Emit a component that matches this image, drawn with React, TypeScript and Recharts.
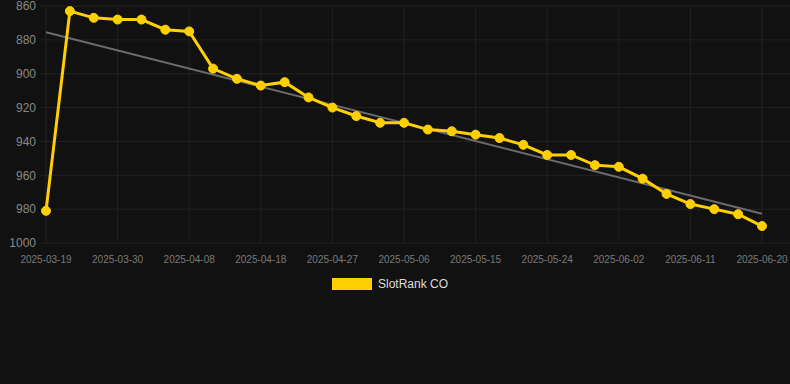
import {
    LineChart,
    Line,
    XAxis,
    YAxis,
    CartesianGrid,
    Legend,
    ReferenceLine,
} from 'recharts';

const dates = [
    '2025-03-19', '2025-03-23', '2025-03-26', '2025-03-30', '2025-04-02', '2025-04-05',
    '2025-04-08', '2025-04-11', '2025-04-15', '2025-04-18', '2025-04-21', '2025-04-24',
    '2025-04-27', '2025-04-30', '2025-05-03', '2025-05-06', '2025-05-09', '2025-05-12',
    '2025-05-15', '2025-05-18', '2025-05-21', '2025-05-24', '2025-05-27', '2025-05-30',
    '2025-06-02', '2025-06-05', '2025-06-08', '2025-06-11', '2025-06-14', '2025-06-17',
    '2025-06-20',
];

const ranks = [
    981, 863, 867, 868, 868, 874, 875, 897, 903, 907, 905, 914,
    920, 925, 929, 929, 933, 934, 936, 938, 942, 948, 948, 954,
    955, 962, 971, 977, 980, 983, 990,
];

const xTicks = [
    '2025-03-19', '2025-03-30', '2025-04-08', '2025-04-18', '2025-04-27', '2025-05-06',
    '2025-05-15', '2025-05-24', '2025-06-02', '2025-06-11', '2025-06-20',
];

const yTicks = [860, 880, 900, 920, 940, 960, 980, 1000];

// trend line end points (rank at first and last date)
const trendStart = 875.5;
const trendEnd = 982.7;

const YELLOW = '#ffd000';

const data = dates.map((d, i) => ({ date: d, rank: ranks[i] }));

function LegendContent() {
    return (
        <div style={{ display: 'flex', justifyContent: 'center', alignItems: 'center', height: 24, paddingRight: 10 }}>
            <span style={{ width: 40, height: 12, background: YELLOW, display: 'inline-block', marginRight: 6 }} />
            <span style={{ color: '#dddddd', fontSize: 12 }}>SlotRank CO</span>
        </div>
    );
}

export default function App() {
    return (
        <div
            style={{
                position: 'absolute',
                top: 0,
                left: 0,
                width: 790,
                height: 384,
                background: '#111111',
                fontFamily: 'Arial, "Liberation Sans", sans-serif',
            }}
        >
            <LineChart width={790} height={300} data={data} margin={{ top: 6, right: 0, left: 0, bottom: 4 }}>
                <CartesianGrid stroke="#222222" strokeWidth={1} syncWithTicks />
                <XAxis
                    dataKey="date"
                    ticks={xTicks}
                    interval={0}
                    padding={{ left: 6, right: 28 }}
                    axisLine={false}
                    tickLine={false}
                    tickMargin={7}
                    height={29}
                    tick={{ fill: '#7a7a7a', fontSize: 10 }}
                />
                <YAxis
                    reversed
                    domain={[860, 1000]}
                    ticks={yTicks}
                    interval={0}
                    allowDataOverflow
                    axisLine={false}
                    tickLine={false}
                    tickSize={0}
                    tickMargin={4}
                    width={40}
                    tick={{ fill: '#888888', fontSize: 12 }}
                />
                <ReferenceLine
                    segment={[
                        { x: dates[0], y: trendStart },
                        { x: dates[dates.length - 1], y: trendEnd },
                    ]}
                    stroke="#6b6b6b"
                    strokeWidth={2}
                />
                <Line
                    dataKey="rank"
                    name="SlotRank CO"
                    stroke={YELLOW}
                    strokeWidth={3}
                    dot={{ fill: YELLOW, stroke: YELLOW, r: 4.5, strokeWidth: 1 }}
                    activeDot={false}
                    isAnimationActive={false}
                />
                <Legend verticalAlign="bottom" content={<LegendContent />} />
            </LineChart>
        </div>
    );
}
